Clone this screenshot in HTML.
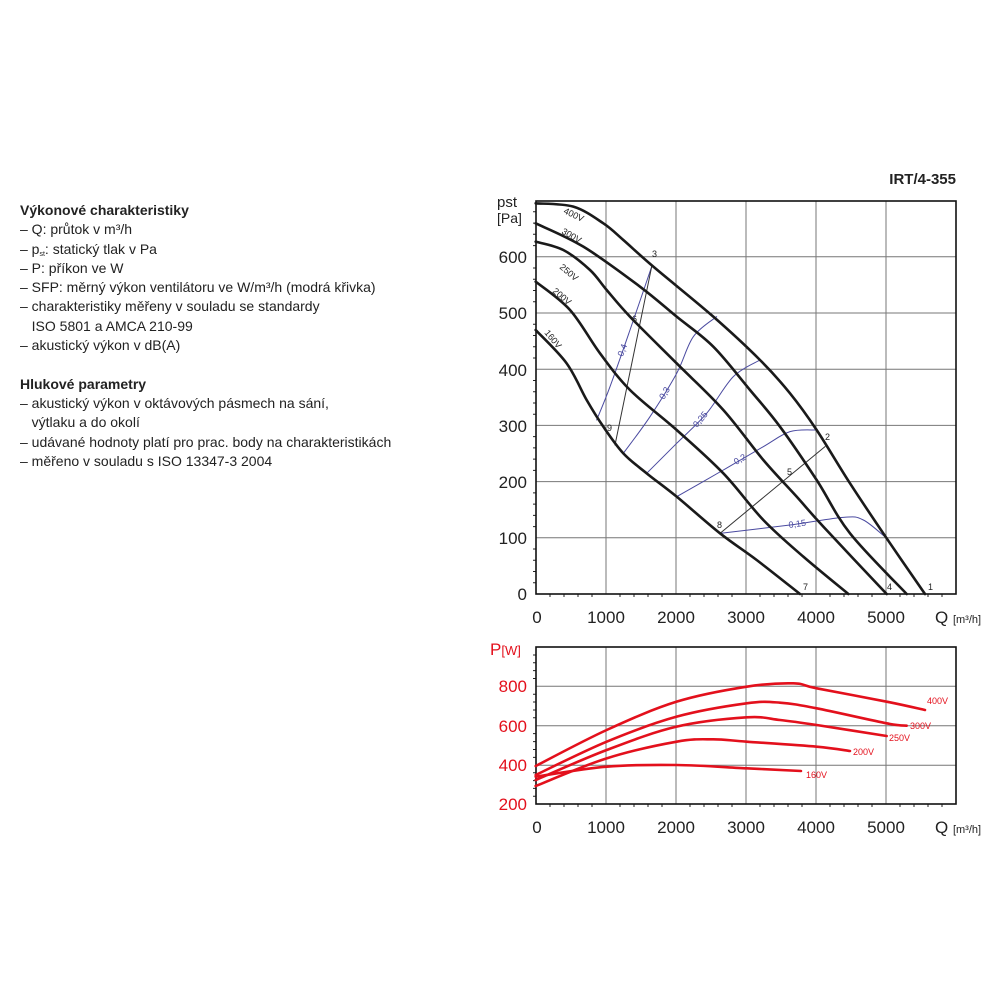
<!DOCTYPE html>
<html><head><meta charset="utf-8"><style>
body{margin:0;background:#fff;width:1000px;height:1000px;overflow:hidden;position:relative;font-family:"Liberation Sans",sans-serif}
.t{position:absolute;left:20px;top:201px;font-size:14px;line-height:19.3px;color:#222;white-space:pre}
.t sub{font-size:7px;line-height:0;vertical-align:-2px}
</style></head><body>
<div class="t"><b>Výkonové charakteristiky</b>
– Q: průtok v m³/h
– p<sub>st</sub>: statický tlak v Pa
– P: příkon ve W
– SFP: měrný výkon ventilátoru ve W/m³/h (modrá křivka)
– charakteristiky měřeny v souladu se standardy
   ISO 5801 a AMCA 210-99
– akustický výkon v dB(A)

<b>Hlukové parametry</b>
– akustický výkon v oktávových pásmech na sání,
   výtlaku a do okolí
– udávané hodnoty platí pro prac. body na charakteristikách
– měřeno v souladu s ISO 13347-3 2004</div>
<svg width="1000" height="1000" style="position:absolute;left:0;top:0" font-family="Liberation Sans, sans-serif">
<text x="956" y="184" font-size="15" font-weight="bold" text-anchor="end" fill="#222">IRT/4-355</text>
<g stroke="#777" stroke-width="1">
<path d="M606 201V594M676 201V594M746 201V594M816 201V594M886 201V594"/>
<path d="M536 537.8H956M536 481.6H956M536 425.4H956M536 369.2H956M536 313H956M536 256.8H956"/>
<path d="M606 647V804M676 647V804M746 647V804M816 647V804M886 647V804"/>
<path d="M536 765.3H956M536 725.7H956M536 686.3H956"/>
</g>
<g stroke="#222" stroke-width="1">
<path d="M533 582.8h3M533 571.5h3M533 560.3h3M533 549h3M533 526.6h3M533 515.4h3M533 504.1h3M533 492.9h3M533 470.4h3M533 459.1h3M533 447.9h3M533 436.6h3M533 414.2h3M533 403h3M533 391.7h3M533 380.5h3M533 358h3M533 346.7h3M533 335.5h3M533 324.2h3M533 301.8h3M533 290.5h3M533 279.3h3M533 268h3M533 245.6h3M533 234.3h3M533 223.1h3M533 211.8h3"/>
<path d="M550 594v3M564 594v3M578 594v3M592 594v3M620 594v3M634 594v3M648 594v3M662 594v3M690 594v3M704 594v3M718 594v3M732 594v3M760 594v3M774 594v3M788 594v3M802 594v3M830 594v3M844 594v3M858 594v3M872 594v3M900 594v3M914 594v3M928 594v3M942 594v3"/>
<path d="M533 796.2h3M533 788.4h3M533 780.6h3M533 772.8h3M533 757.4h3M533 749.5h3M533 741.6h3M533 733.6h3M533 717.8h3M533 710h3M533 702h3M533 694.2h3M533 678.5h3M533 670.6h3M533 662.8h3M533 655h3"/>
<path d="M550 804v3M564 804v3M578 804v3M592 804v3M620 804v3M634 804v3M648 804v3M662 804v3M690 804v3M704 804v3M718 804v3M732 804v3M760 804v3M774 804v3M788 804v3M802 804v3M830 804v3M844 804v3M858 804v3M872 804v3M900 804v3M914 804v3M928 804v3M942 804v3"/>
</g>
<rect x="536" y="201" width="420" height="393" fill="none" stroke="#111" stroke-width="1.6"/>
<rect x="536" y="647" width="420" height="157" fill="none" stroke="#111" stroke-width="1.6"/>
<g transform="translate(490,160) scale(0.33333)" fill="none" stroke-linejoin="round" stroke-linecap="round">
<g stroke="#4a4aa0" stroke-width="1">
<path class="s" vector-effect="non-scaling-stroke" data-p="320,780 360,680 420,510 485,320"/>
<path class="s" vector-effect="non-scaling-stroke" data-p="400,880 480,770 560,640 610,530 680,470"/>
<path class="s" vector-effect="non-scaling-stroke" data-p="470,940 560,850 650,760 730,650 810,600"/>
<path class="s" vector-effect="non-scaling-stroke" data-p="560,1010 700,930 820,860 900,815 980,810"/>
<path class="s" vector-effect="non-scaling-stroke" data-p="690,1120 900,1095 1060,1072 1120,1080 1190,1135"/>
</g>
<g stroke="#333" stroke-width="1">
<polyline vector-effect="non-scaling-stroke" points="485,320 375,855"/>
<polyline vector-effect="non-scaling-stroke" points="1005,860 690,1120"/>
</g>
<g stroke="#1a1a1a" stroke-width="2.6">
<path class="s" vector-effect="non-scaling-stroke" data-p="137,130 250,140 340,190 400,240 490,320 670,470 810,600 900,700 980,810 1080,970 1190,1135 1305,1302"/>
<path class="s" vector-effect="non-scaling-stroke" data-p="137,190 280,260 450,380 560,470 670,560 780,690 870,800 980,960 1080,1120 1250,1302"/>
<path class="s" vector-effect="non-scaling-stroke" data-p="137,245 220,270 300,330 350,390 420,470 560,610 700,750 820,900 920,1010 1000,1100 1190,1302"/>
<path class="s" vector-effect="non-scaling-stroke" data-p="137,365 240,450 330,580 420,690 560,810 700,940 820,1080 940,1190 1075,1302"/>
<path class="s" vector-effect="non-scaling-stroke" data-p="137,510 230,610 290,720 340,800 400,880 470,940 560,1010 690,1120 800,1200 930,1302"/>
</g>
</g>
<g transform="translate(480,630) scale(0.33333)" fill="none" stroke="#e3101c" stroke-width="2.6" stroke-linejoin="round" stroke-linecap="round">
<path class="s" vector-effect="non-scaling-stroke" data-p="167,408 380,300 590,215 800,170 940,160 1010,175 1220,215 1335,240"/>
<path class="s" vector-effect="non-scaling-stroke" data-p="167,435 380,335 590,260 800,220 900,218 1010,235 1220,280 1280,287"/>
<path class="s" vector-effect="non-scaling-stroke" data-p="167,450 380,360 590,290 800,262 900,270 1010,285 1220,318"/>
<path class="s" vector-effect="non-scaling-stroke" data-p="167,468 380,385 590,335 700,328 800,335 1010,350 1110,363"/>
<path class="s" vector-effect="non-scaling-stroke" data-p="167,440 380,410 590,405 800,415 963,423"/>
</g>
<g font-size="9" fill="#222">
<text x="652" y="257">3</text><text x="632" y="322">6</text><text x="607" y="431">9</text>
<text x="825" y="440">2</text><text x="787" y="475">5</text><text x="717" y="528">8</text>
<text x="803" y="590">7</text><text x="887" y="590">4</text><text x="928" y="590">1</text>
<text transform="translate(563,213) rotate(25)">400V</text>
<text transform="translate(561,233) rotate(30)">300V</text>
<text transform="translate(559,268) rotate(40)">250V</text>
<text transform="translate(552,292) rotate(40)">200V</text>
<text transform="translate(544,333) rotate(50)">160V</text>
</g>
<g font-size="9" fill="#4a4aa0">
<text transform="translate(623,357) rotate(-70)">0,4</text>
<text transform="translate(664,400) rotate(-60)">0,3</text>
<text transform="translate(697,428) rotate(-50)">0,25</text>
<text transform="translate(736,465) rotate(-30)">0,2</text>
<text transform="translate(789,528) rotate(-8)">0,15</text>
</g>
<g font-size="17" fill="#222" text-anchor="end">
<text x="527" y="600">0</text><text x="527" y="544">100</text><text x="527" y="488">200</text><text x="527" y="432">300</text><text x="527" y="376">400</text><text x="527" y="319">500</text><text x="527" y="263">600</text>
</g>
<g font-size="17" fill="#222" text-anchor="middle">
<text x="537" y="623">0</text><text x="606" y="623">1000</text><text x="676" y="623">2000</text><text x="746" y="623">3000</text><text x="816" y="623">4000</text><text x="886" y="623">5000</text>
<text x="537" y="833">0</text><text x="606" y="833">1000</text><text x="676" y="833">2000</text><text x="746" y="833">3000</text><text x="816" y="833">4000</text><text x="886" y="833">5000</text>
</g>
<text x="935" y="623" font-size="17" fill="#222">Q <tspan font-size="11">[m³/h]</tspan></text>
<text x="935" y="833" font-size="17" fill="#222">Q <tspan font-size="11">[m³/h]</tspan></text>
<text x="497" y="207" font-size="15" fill="#222">pst</text>
<text x="497" y="223" font-size="14" fill="#222">[Pa]</text>
<text x="490" y="655" font-size="17" fill="#e3101c">P<tspan font-size="13">[W]</tspan></text>
<g font-size="17" fill="#e3101c" text-anchor="end">
<text x="527" y="810">200</text><text x="527" y="771">400</text><text x="527" y="732">600</text><text x="527" y="692">800</text>
</g>
<g font-size="9" fill="#e3101c">
<text x="927" y="704">400V</text><text x="910" y="729">300V</text><text x="889" y="741">250V</text>
<text x="853" y="755">200V</text><text x="806" y="778">160V</text>
</g>
</svg>
<script>
document.querySelectorAll('path.s').forEach(function(el){
  var p=el.getAttribute('data-p').trim().split(/\s+/).map(function(s){return s.split(',').map(Number);});
  var d='M'+p[0][0]+' '+p[0][1];
  for(var i=0;i<p.length-1;i++){
    var p0=p[i-1]||p[i],p1=p[i],p2=p[i+1],p3=p[i+2]||p2;
    var c1x=p1[0]+(p2[0]-p0[0])/6,c1y=p1[1]+(p2[1]-p0[1])/6;
    var c2x=p2[0]-(p3[0]-p1[0])/6,c2y=p2[1]-(p3[1]-p1[1])/6;
    d+=' C'+c1x+' '+c1y+' '+c2x+' '+c2y+' '+p2[0]+' '+p2[1];
  }
  el.setAttribute('d',d);
});
</script>
</body></html>
